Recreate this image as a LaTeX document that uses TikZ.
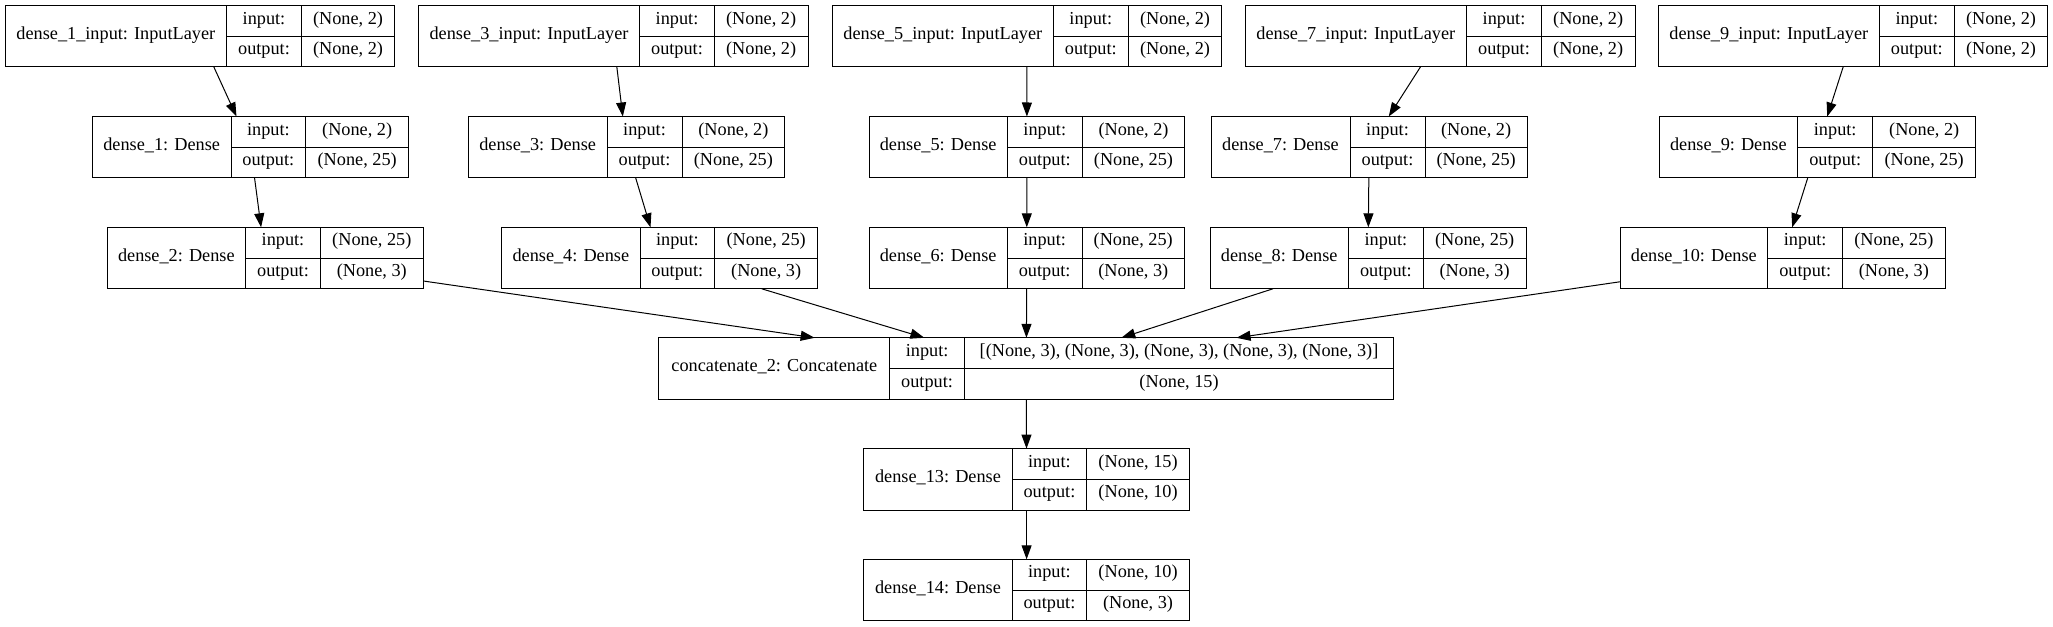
\documentclass[tikz,border=0pt]{standalone}
\usepackage{fontspec}
\setmainfont{Liberation Serif}
\usetikzlibrary{arrows.meta}
\tikzset{
  kbox/.style={draw=black, line width=0.75pt, inner sep=0pt, outer sep=0pt, rectangle},
  kline/.style={draw=black, line width=0.75pt},
  ktext/.style={inner sep=0pt, font=\fontsize{13.7}{16}\selectfont, text height=0.69em, text depth=0.22em, anchor=center},
  karrow/.style={draw=black, line width=0.75pt, -{Triangle[length=10.5pt,width=7.5pt]}},
}
% #1 name, #2 left, #3 right, #4 top, #5 first divider, #6 second divider, #7 title, #8 input shape, #9 output shape
\newcommand\klayer[9]{%
  \pgfmathsetmacro\kw{(#3-#2)*0.75}%
  \node[kbox, minimum width=\kw pt, minimum height=46.125pt] (#1) at ({(#2+#3)/2},{#4+30.75}) {};
  \draw[kline] (#5,#4) -- (#5,#4+61.5);
  \draw[kline] (#6,#4) -- (#6,#4+61.5);
  \draw[kline] (#5,#4+30.75) -- (#3,#4+30.75);
  \node[ktext] at ({(#2+#5)/2},{#4+30.75}) {#7};
  \node[ktext] at ({(#5+#6)/2},{#4+15.4}) {input:};
  \node[ktext] at ({(#5+#6)/2},{#4+46.1}) {output:};
  \node[ktext] at ({(#6+#3)/2},{#4+15.4}) {#8};
  \node[ktext] at ({(#6+#3)/2},{#4+46.1}) {#9};
}
\begin{document}
\begin{tikzpicture}[x=0.75pt,y=-0.75pt]
\useasboundingbox[fill=white] (0,0) rectangle (2053,627);
% row 1
\klayer{d1in}{5}{394.7}{5.5}{226.7}{301.3}{dense\_1\_input: InputLayer}{(None, 2)}{(None, 2)}
\klayer{d3in}{418.3}{808}{5.5}{639.7}{714.3}{dense\_3\_input: InputLayer}{(None, 2)}{(None, 2)}
\klayer{d5in}{832.3}{1221.7}{5.5}{1053.3}{1128.3}{dense\_5\_input: InputLayer}{(None, 2)}{(None, 2)}
\klayer{d7in}{1245}{1635}{5.5}{1466.7}{1541.3}{dense\_7\_input: InputLayer}{(None, 2)}{(None, 2)}
\klayer{d9in}{1658.3}{2047.7}{5.5}{1879.3}{1954.3}{dense\_9\_input: InputLayer}{(None, 2)}{(None, 2)}
% row 2
\klayer{d1}{92.3}{408.7}{116.5}{231}{305.7}{dense\_1: Dense}{(None, 2)}{(None, 25)}
\klayer{d3}{468.3}{784.7}{116.5}{607}{682}{dense\_3: Dense}{(None, 2)}{(None, 25)}
\klayer{d5}{869}{1184.7}{116.5}{1007.3}{1082.3}{dense\_5: Dense}{(None, 2)}{(None, 25)}
\klayer{d7}{1211}{1527.3}{116.5}{1350}{1425}{dense\_7: Dense}{(None, 2)}{(None, 25)}
\klayer{d9}{1659}{1975.7}{116.5}{1797.7}{1872.7}{dense\_9: Dense}{(None, 2)}{(None, 25)}
% row 3
\klayer{d2}{107}{423.3}{227.3}{245.7}{320.3}{dense\_2: Dense}{(None, 25)}{(None, 3)}
\klayer{d4}{501.7}{817.7}{227.3}{640}{714.7}{dense\_4: Dense}{(None, 25)}{(None, 3)}
\klayer{d6}{869}{1184.5}{227.3}{1007.3}{1082}{dense\_6: Dense}{(None, 25)}{(None, 3)}
\klayer{d8}{1210}{1526}{227.3}{1348.5}{1423.3}{dense\_8: Dense}{(None, 25)}{(None, 3)}
\klayer{d10}{1620}{1945}{227.3}{1767.7}{1842.7}{dense\_10: Dense}{(None, 25)}{(None, 3)}
% concatenate
\klayer{cat}{658.9}{1393.7}{337.8}{889.8}{964.4}{concatenate\_2: Concatenate}{[(None, 3), (None, 3), (None, 3), (None, 3), (None, 3)]}{(None, 15)}
% tail
\klayer{d13}{863.9}{1189.3}{448.6}{1012.1}{1086.8}{dense\_13: Dense}{(None, 15)}{(None, 10)}
\klayer{d14}{863.9}{1189.3}{559.3}{1012.1}{1086.8}{dense\_14: Dense}{(None, 10)}{(None, 3)}
% connectors
\draw[karrow] (d1in) -- (d1);
\draw[karrow] (d1) -- (d2);
\draw[karrow] (d3in) -- (d3);
\draw[karrow] (d3) -- (d4);
\draw[karrow] (d5in) -- (d5);
\draw[karrow] (d5) -- (d6);
\draw[karrow] (d7in) -- (d7);
\draw[karrow] (d7) -- (d8);
\draw[karrow] (d9in) -- (d9);
\draw[karrow] (d9) -- (d10);
\draw[karrow] (d2) -- (cat);
\draw[karrow] (d4) -- (cat);
\draw[karrow] (d6) -- (cat);
\draw[karrow] (d8) -- (cat);
\draw[karrow] (d10) -- (cat);
\draw[karrow] (cat) -- (d13);
\draw[karrow] (d13) -- (d14);
\end{tikzpicture}
\end{document}
